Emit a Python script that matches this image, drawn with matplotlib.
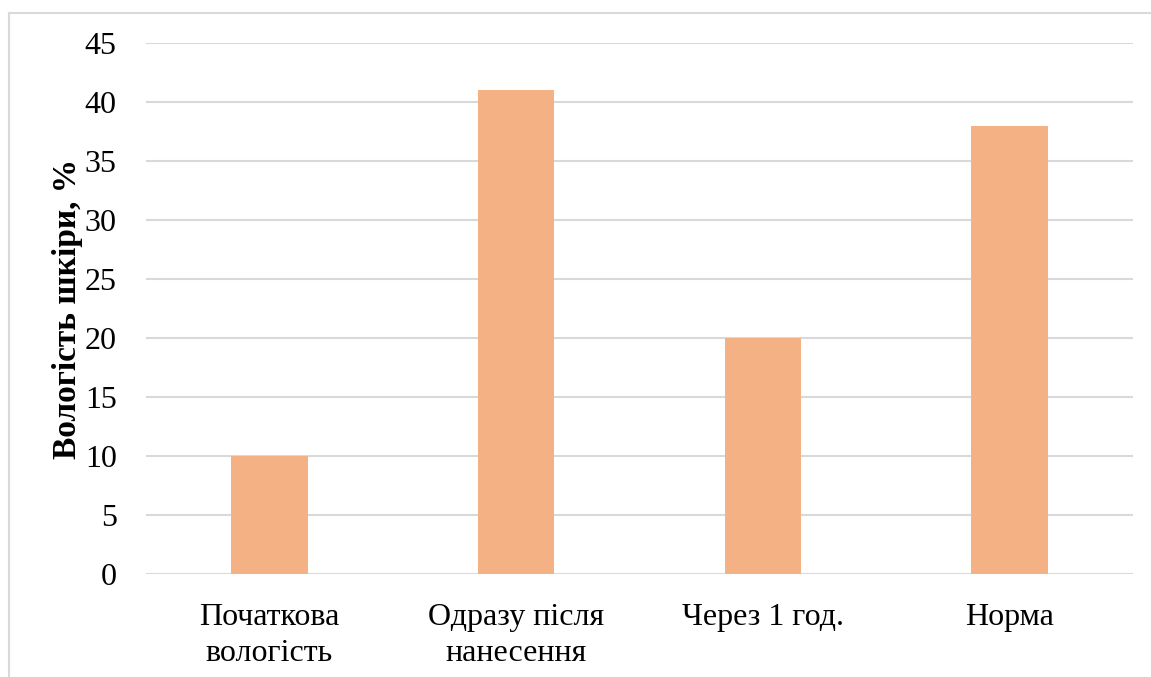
import matplotlib.pyplot as plt
from matplotlib.lines import Line2D

plt.rcParams['font.family'] = ['Liberation Serif', 'DejaVu Serif']

# дані з діаграми
categories = ["Початкова\nвологість", "Одразу після\nнанесення", "Через 1 год.", "Норма"]
values = [10, 41, 20, 38]
y_ticks = [0, 5, 10, 15, 20, 25, 30, 35, 40, 45]

W, H = 1151, 677
fig = plt.figure(figsize=(W / 100, H / 100), dpi=100)
ax = fig.add_axes([146 / W, 1 - 574 / H, (1133 - 146) / W, (574 - 43) / H])

x = range(len(categories))
ax.bar(x, values, width=0.31, color='#F4B183', zorder=3)

ax.set_xlim(-0.5, len(categories) - 0.5)
ax.set_ylim(0, 45)
ax.set_yticks(y_ticks)
ax.set_xticks(list(x))
ax.set_xticklabels(categories, linespacing=1.3)
ax.tick_params(axis='both', length=0, labelsize=23, colors='black')
ax.tick_params(axis='y', pad=21)
ax.tick_params(axis='x', pad=21)

ax.grid(axis='y', color='#D9D9D9', linewidth=1.5, zorder=0)
for s in ax.spines.values():
    s.set_visible(False)

ax.set_ylabel("Вологість шкіри, %", fontsize=24, fontweight='bold', labelpad=1)

# рамка діаграми (видно лише верх і ліву сторону)
fig.add_artist(Line2D([8.5 / W, 8.5 / W], [0, 1 - 12.5 / H], color='#D9D9D9', linewidth=1.5,
                      transform=fig.transFigure))
fig.add_artist(Line2D([8.5 / W, 1], [1 - 12.5 / H, 1 - 12.5 / H], color='#D9D9D9', linewidth=1.5,
                      transform=fig.transFigure))

fig.savefig("out.png", dpi=100, facecolor='white')
